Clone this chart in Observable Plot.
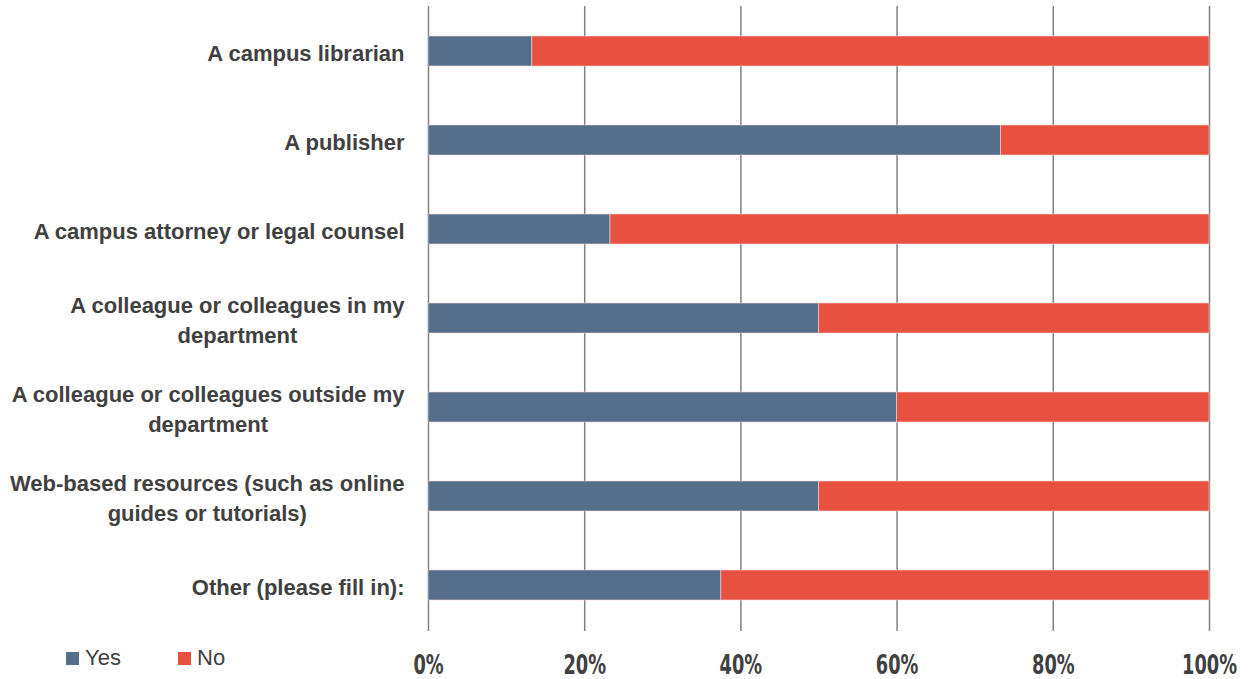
<!DOCTYPE html>
<html>
<head>
<meta charset="utf-8">
<script src="https://cdn.jsdelivr.net/npm/d3@7"></script>
<script src="https://cdn.jsdelivr.net/npm/@observablehq/plot@0.6"></script>
<style>
  html, body { margin: 0; padding: 0; background: #fff; }
  #wrap { position: relative; width: 1250px; height: 679px; }
  #legend { position: absolute; left: 66px; top: 645px; display: flex; gap: 0; font-family: "Liberation Sans", Arial, sans-serif; font-size: 22px; color: #404040; }
  .item { display: flex; align-items: center; width: 112px; }
  .sw { width: 13px; height: 13px; margin-right: 6px; }
</style>
</head>
<body>
<div id="wrap"><div id="legend"></div></div>
<script>
const categories = [
  "A campus librarian",
  "A publisher",
  "A campus attorney or legal counsel",
  "A colleague or colleagues in my department",
  "A colleague or colleagues outside my department",
  "Web-based resources (such as online guides or tutorials)",
  "Other (please fill in):"
];
const categoryLabels = [
  "A campus librarian",
  "A publisher",
  "A campus attorney or legal counsel",
  "A colleague or colleagues in my\ndepartment",
  "A colleague or colleagues outside my\ndepartment",
  "Web-based resources (such as online\nguides or tutorials)",
  "Other (please fill in):"
];
const yesValues = [13.3, 73.3, 23.3, 50, 60, 50, 37.5];
const noValues  = [86.7, 26.7, 76.7, 50, 40, 50, 62.5];
const seriesNames = ["Yes", "No"];
const seriesColors = ["#556e8a", "#e8503f"];
const xTicks = [0, 20, 40, 60, 80, 100];

const data = [];
categories.forEach((c, i) => {
  data.push({category: c, series: "Yes", value: yesValues[i]});
  data.push({category: c, series: "No", value: noValues[i]});
});
const labelMap = new Map(categories.map((c, i) => [c, categoryLabels[i]]));

const chart = Plot.plot({
  width: 1250,
  height: 679,
  marginLeft: 428,
  marginRight: 41,
  marginTop: 6,
  marginBottom: 48,
  style: {fontFamily: "'Liberation Sans', Arial, sans-serif", color: "#404040", background: "#fff", overflow: "visible"},
  x: {domain: [0, 100], ticks: xTicks},
  y: {domain: categories, paddingInner: 0.66, paddingOuter: 0.33},
  color: {domain: seriesNames, range: seriesColors},
  marks: [
    Plot.gridX(xTicks, {stroke: "#808080", strokeOpacity: 1, strokeWidth: 1.5}),
    Plot.barX(data, Plot.stackX({x: "value", y: "category", fill: "series", order: seriesNames, stroke: "#f4d8d4", strokeWidth: 0.6})),
    Plot.axisX({
      ticks: xTicks, tickSize: 0, tickPadding: 24, tickFormat: d => d + "%",
      fontSize: 26, fontWeight: "bold", fontFamily: "'Liberation Sans Narrow', 'Arial Narrow', 'DejaVu Sans Condensed', sans-serif",
      fill: "#404040", label: null, anchor: "bottom"
    }),
    Plot.axisY({
      tickSize: 0, tickPadding: 24, tickFormat: d => labelMap.get(d),
      fontSize: 22, fontWeight: "bold", fill: "#404040", label: null, lineHeight: 1.36
    })
  ]
});
document.getElementById("wrap").prepend(chart);

// Center the lines of multi-line y labels relative to each other, right edge fixed
chart.querySelectorAll("g[aria-label='y-axis tick label'] text").forEach(t => {
  const spans = t.querySelectorAll("tspan");
  if (spans.length > 1) {
    let w = 0;
    spans.forEach(s => { w = Math.max(w, s.getComputedTextLength()); });
    t.setAttribute("text-anchor", "middle");
    spans.forEach(s => s.setAttribute("x", -w / 2));
  }
});

// Condense x tick labels if no narrow face is available (target: "100%" ≈ 55px wide)
const xt = [...chart.querySelectorAll("g[aria-label='x-axis tick label'] text")];
const widest = Math.max(...xt.map(t => t.getComputedTextLength()));
if (widest > 57) {
  const s = 55 / widest;
  xt.forEach(t => {
    const tr = t.getAttribute("transform") || "";
    t.setAttribute("transform", tr + ` scale(${s},1)`);
  });
}

const legend = document.getElementById("legend");
seriesNames.forEach((n, i) => {
  const it = document.createElement("div");
  it.className = "item";
  it.innerHTML = `<div class="sw" style="background:${seriesColors[i]}"></div><span>${n}</span>`;
  legend.appendChild(it);
});
</script>
</body>
</html>
